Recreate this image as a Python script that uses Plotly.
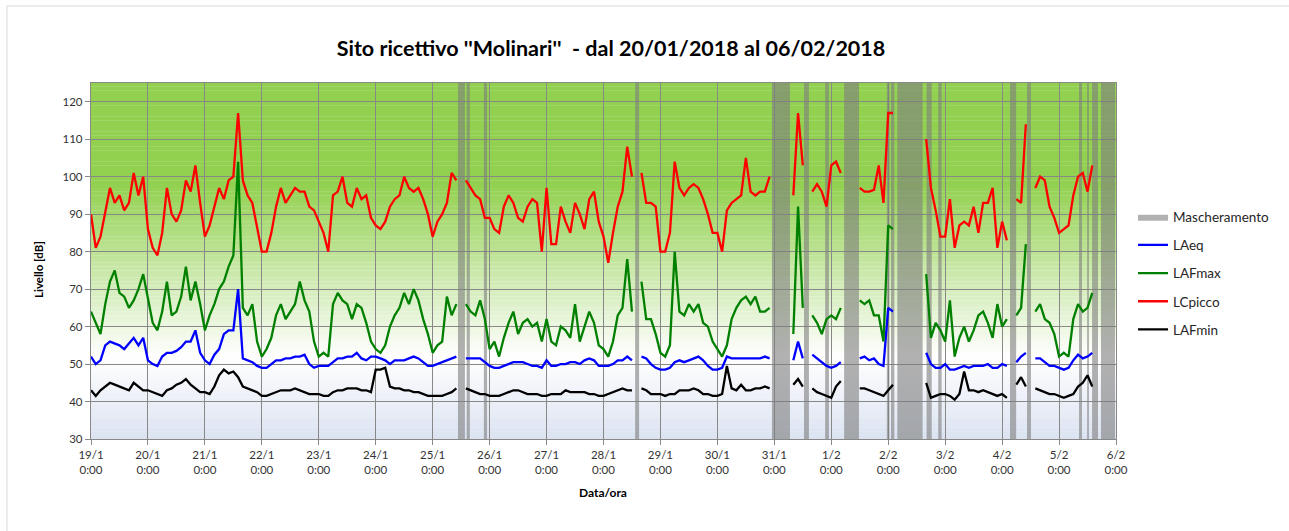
import pandas as pd
import plotly.graph_objects as go

# ---- data: 2-hour samples, 19/01/2018 00:00 -> 05/02/2018 22:00 ----
times = pd.date_range("2018-01-19 00:00", periods=216, freq="2h")
N = None

lcpicco = [
    90, 81, 84, 91, 97, 93, 95, 91, 93, 101, 95, 100,      # 19/1
    86, 81, 79, 85, 97, 90, 88, 91, 99, 96, 103, 93,       # 20/1
    84, 87, 92, 97, 94, 99, 100, 117, 99, 95, 93, 86,      # 21/1
    80, 80, 85, 92, 97, 93, 95, 97, 96, 96, 92, 91,        # 22/1
    88, 85, 80, 95, 96, 100, 93, 92, 97, 94, 95, 89,       # 23/1
    87, 86, 88, 92, 94, 95, 100, 97, 96, 97, 94, 90,       # 24/1
    84, 88, 90, 93, 101, 99, N, 99, 97, 95, 94, 89,        # 25/1
    89, 86, 85, 92, 95, 93, 89, 88, 92, 94, 93, 80,        # 26/1
    97, 82, 82, 92, 88, 85, 93, 90, 86, 94, 96, 88,        # 27/1
    84, 77, 85, 92, 96, 108, 100, N, 101, 93, 93, 92,      # 28/1
    80, 80, 85, 104, 97, 95, 97, 98, 97, 94, 90, 85,       # 29/1
    85, 80, 91, 93, 94, 95, 105, 96, 95, 96, 96, 100,      # 30/1
    N, N, N, N, 95, 117, 103, N, 96, 98, 96, 92,           # 31/1
    103, 104, 101, N, N, N, 97, 96, 96, 96.5, 103, 93,     # 1/2
    117, 117, N, N, N, N, N, N, 110, 97, 91, 84,           # 2/2
    84, 94, 81, 87, 88, 87, 92, 85, 93, 93, 97, 81,        # 3/2
    88, 83, N, 94, 93, 114, N, 97, 100, 99, 92, 89,        # 4/2
    85, 86, 87, 95, 100, 101, 96, 103, N, N, N, N,         # 5/2
]

lafmax = [
    64, 61, 58, 66, 72, 75, 69, 68, 65, 67, 70, 74,
    67, 61, 59, 64, 72, 63, 64, 68, 76, 67, 72, 66,
    59, 63, 66, 70, 72, 76, 79, 104, 65, 63, 66, 56,
    52, 54, 57, 63, 66, 62, 64, 66, 72, 67, 64, 56,
    52, 53, 52, 66, 69, 67, 66, 62, 66, 65, 61, 56,
    54, 53, 55, 60, 63, 65, 69, 66, 70, 67, 62, 58,
    53, 55, 56, 68, 63, 66, N, 66, 64, 63, 67, 62,
    54, 56, 52, 57, 61, 64, 58, 61, 62, 60, 61, 56,
    62, 56, 55, 60, 59, 57, 66, 56, 60, 64, 61, 55,
    54, 52, 56, 63, 65, 78, 64, N, 72, 62, 62, 58,
    53, 52, 55, 80, 64, 63, 66, 64, 66, 61, 60, 56,
    54, 52, 55, 62, 65, 67, 68, 66, 68, 64, 64, 65,
    N, N, N, N, 58, 92, 65, N, 63, 61, 58, 62,
    63, 62, 65, N, N, N, 67, 66, 67, 63, 63, 56,
    87, 86, N, N, N, N, N, N, 74, 57, 61, 59,
    56, 67, 52, 57, 60, 56, 59, 63, 64, 61, 57, 66,
    60, 62, N, 63, 65, 82, N, 64, 66, 62, 61, 58,
    52, 53, 52, 62, 66, 64, 65, 69, N, N, N, N,
]

laeq = [
    52, 50, 51, 55, 56, 55.5, 55, 54, 55.5, 57, 55, 57,
    51, 50, 49.5, 52, 53, 53, 53.5, 54.5, 56, 56, 59, 53,
    51, 50, 52.5, 54, 58, 59, 59, 70, 51.5, 51, 50.5, 49.5,
    49, 49, 50, 51, 51, 51.5, 51.5, 52, 52, 52.5, 50, 49,
    49.5, 49.5, 49.5, 50.5, 51.5, 51.5, 52, 52, 53, 51.5, 51, 52,
    52, 51.5, 51, 50, 51, 51, 51, 51.5, 52, 51.5, 50.5, 49.5,
    49.5, 50, 50.5, 51, 51.5, 52, N, 51.5, 51.5, 51.5, 51.5, 50.5,
    49.5, 49, 49, 49.5, 50, 50.5, 50.5, 50.5, 50, 49.5, 49.5, 49,
    51, 49.5, 49.5, 50, 50, 50.5, 50.5, 50, 51, 51.5, 51, 49.5,
    49.5, 49.5, 50, 51, 51, 52, 51, N, 52, 51.5, 50, 49,
    48.5, 48.5, 49, 50.5, 51, 50.5, 51, 51.5, 52, 51, 49.5, 48.5,
    48.5, 49, 52, 51.5, 51.5, 51.5, 51.5, 51.5, 51.5, 51.5, 52, 51.5,
    N, N, N, N, 51, 56, 51.5, N, 52.5, 51.5, 50.5, 49.5,
    49, 49.5, 50.5, N, N, N, 51.5, 52, 51, 51.5, 50, 49.5,
    65, 64, N, N, N, N, N, N, 53, 50, 49, 49,
    50, 48.5, 48.5, 49, 49.5, 49, 49.5, 49.5, 49.5, 50, 49, 49,
    50, 49.5, N, 50.5, 52, 53, N, 51.5, 51.5, 50.5, 49.5, 49.5,
    49, 48.5, 49, 51, 52.5, 51.5, 52, 53, N, N, N, N,
]

lafmin = [
    43, 41.5, 43, 44, 45, 44.5, 44, 43.5, 43, 45, 44, 43,
    43, 42.5, 42, 41.5, 43, 43.5, 44.5, 45, 46, 44.5, 43.5, 42.5,
    42.5, 42, 44, 47, 48.5, 47.5, 48, 46.5, 44, 43.5, 43, 42.5,
    41.5, 41.5, 42, 42.5, 43, 43, 43, 43.5, 43, 42.5, 42, 42,
    42, 41.5, 41.5, 42.5, 43, 43, 43.5, 43.5, 43.5, 43, 43, 42.5,
    48.5, 48.5, 49, 44, 43.5, 43.5, 43, 43, 42.5, 42.5, 42, 41.5,
    41.5, 41.5, 41.5, 42, 42.5, 43.5, N, 43.5, 43, 42.5, 42, 42,
    41.5, 41.5, 41.5, 42, 42.5, 43, 43, 42.5, 42, 42, 42, 41.5,
    41.5, 42, 42, 42, 43, 42.5, 42.5, 42.5, 42.5, 42, 42, 41.5,
    41.5, 42, 42.5, 43, 43.5, 43, 43, N, 43.5, 43, 42, 42,
    42, 41.5, 42, 42, 43, 43, 43, 43.5, 43, 42, 42, 41.5,
    41.5, 42, 49.5, 43.5, 43, 44.5, 43, 43, 43.5, 43.5, 44, 43.5,
    N, N, N, N, 44.5, 46, 44, N, 43.5, 42.5, 42, 41.5,
    41, 44, 45.5, N, N, N, 43.5, 43.5, 43, 42.5, 42, 41.5,
    43, 44.5, N, N, N, N, N, N, 45, 41, 41.5, 42,
    42, 41.5, 40.5, 42, 48, 43, 43, 42.5, 43, 42.5, 42, 41.5,
    42, 41, N, 44.5, 46.5, 44, N, 43.5, 43, 42.5, 42, 42,
    41.5, 41, 41.5, 42, 44, 45, 47, 44, N, N, N, N,
]

# masked periods (Mascheramento)
mask_start = [
    "2018-01-25 10:40", "2018-01-25 14:20", "2018-01-25 21:35", "2018-01-28 13:20",
    "2018-01-30 23:00", "2018-01-31 12:30", "2018-01-31 21:25", "2018-02-01 05:25",
    "2018-02-01 23:25", "2018-02-02 01:10", "2018-02-02 03:50", "2018-02-02 16:10",
    "2018-02-02 21:05", "2018-02-04 03:20", "2018-02-04 10:30", "2018-02-05 08:25",
    "2018-02-05 11:50", "2018-02-05 13:55", "2018-02-05 17:40",
]
mask_end = [
    "2018-01-25 13:35", "2018-01-25 15:40", "2018-01-25 22:55", "2018-01-28 15:00",
    "2018-01-31 06:35", "2018-01-31 14:35", "2018-01-31 23:00", "2018-02-01 11:40",
    "2018-02-02 00:30", "2018-02-02 02:35", "2018-02-02 14:30", "2018-02-02 18:20",
    "2018-02-02 22:30", "2018-02-04 05:55", "2018-02-04 12:10", "2018-02-05 09:40",
    "2018-02-05 12:35", "2018-02-05 16:25", "2018-02-05 23:35",
]

y_min, y_max = 30, 125
y_ticks = list(range(30, 121, 10))
day_ticks = pd.date_range("2018-01-19", "2018-02-06", freq="D")
day_labels = [f"{d.day}/{d.month}<br>0:00" for d in day_ticks]

FONT = "Lato, 'Open Sans', sans-serif"
GRID = "#888888"
MASK = "rgba(125,125,125,0.6)"

fig = go.Figure()

# gray masking bands as one filled trace
mx, my = [], []
for s, e in zip(mask_start, mask_end):
    mx += [s, s, e, e, s, None]
    my += [y_min, y_max, y_max, y_min, y_min, None]
fig.add_trace(go.Scatter(
    x=mx, y=my, mode="lines", fill="toself", name="Mascheramento",
    fillcolor=MASK, line=dict(width=0, color=MASK),
    hoverinfo="skip", legendgroup="g0",
))

series = [
    ("LAeq", laeq, "#0000FF"),
    ("LAFmax", lafmax, "#008000"),
    ("LCpicco", lcpicco, "#FF0000"),
    ("LAFmin", lafmin, "#000000"),
]
for i, (name, vals, col) in enumerate(series):
    fig.add_trace(go.Scatter(
        x=times, y=vals, mode="lines", name=name,
        line=dict(color=col, width=2.3), connectgaps=False,
        legendgroup=f"g{i + 1}",
    ))

# vertical background gradient: light blue -> white -> green
stops = [(30, (219, 227, 241)), (52, (255, 255, 255)), (98, (146, 208, 80)), (125, (146, 208, 80))]


def grad_color(v):
    for (a, ca), (b, cb) in zip(stops[:-1], stops[1:]):
        if a <= v <= b:
            t = (v - a) / (b - a)
            return "rgb(%d,%d,%d)" % tuple(round(ca[k] + t * (cb[k] - ca[k])) for k in range(3))
    return "rgb(%d,%d,%d)" % stops[-1][1]


shapes = []
step = 1.0
v = y_min
while v < y_max:
    shapes.append(dict(
        type="rect", xref="paper", yref="y", x0=0, x1=1, y0=v, y1=min(v + step, y_max) + 0.05,
        fillcolor=grad_color(v + step / 2), line=dict(width=0), layer="below",
    ))
    v += step

# outer chart frame (left and top edges)
shapes.append(dict(type="line", xref="paper", yref="paper", x0=-0.082, x1=-0.082, y0=-0.3, y1=1.2163,
                   line=dict(color="#d9d9d9", width=1)))
shapes.append(dict(type="line", xref="paper", yref="paper", x0=-0.082, x1=1.2, y0=1.2163, y1=1.2163,
                   line=dict(color="#d9d9d9", width=1)))

fig.update_layout(
    width=1289, height=531,
    margin=dict(l=91, r=173, t=83, b=92),
    paper_bgcolor="white", plot_bgcolor="white",
    font=dict(family=FONT, size=11, color="#333333"),
    title=dict(
        text="<b>Sito ricettivo ''Molinari''  - dal 20/01/2018 al 06/02/2018</b>",
        font=dict(family=FONT, size=21.5, color="#000000"),
        x=0.474, xref="container", xanchor="center",
        y=1 - 48 / 531, yref="container", yanchor="middle",
    ),
    shapes=shapes,
    showlegend=True,
    legend=dict(
        x=1.0166, y=0.667, xanchor="left", yanchor="top",
        font=dict(family=FONT, size=13.5, color="#262626"),
        traceorder="grouped", tracegroupgap=7.6,
        bgcolor="rgba(0,0,0,0)", itemwidth=30,
    ),
    annotations=[
        dict(text="<b>Livello [dB]</b>", xref="paper", yref="paper", x=-0.0517, y=0.4747,
             textangle=-90, showarrow=False, font=dict(family=FONT, size=11.5, color="#000000"),
             xanchor="center", yanchor="middle"),
        dict(text="<b>Data/ora</b>", xref="paper", yref="paper", x=0.4995, y=-0.1489,
             showarrow=False, font=dict(family=FONT, size=12, color="#000000"),
             xanchor="center", yanchor="middle"),
    ],
)

fig.update_xaxes(
    type="date", range=[day_ticks[0], day_ticks[-1]],
    tickvals=day_ticks, ticktext=day_labels,
    showgrid=True, gridcolor=GRID, gridwidth=1.3,
    showline=True, linecolor=GRID, linewidth=1.3, mirror=True,
    ticks="outside", ticklen=5, tickcolor=GRID,
    tickfont=dict(family=FONT, size=11.5, color="#333333"),
    zeroline=False,
)
fig.update_yaxes(
    range=[y_min, y_max], tickvals=y_ticks,
    showgrid=True, gridcolor=GRID, gridwidth=1.3,
    showline=True, linecolor=GRID, linewidth=1.3, mirror=True,
    ticks="outside", ticklen=5, tickcolor=GRID,
    tickfont=dict(family=FONT, size=11.5, color="#333333"),
    zeroline=False,
)

fig.write_html("out.html")
